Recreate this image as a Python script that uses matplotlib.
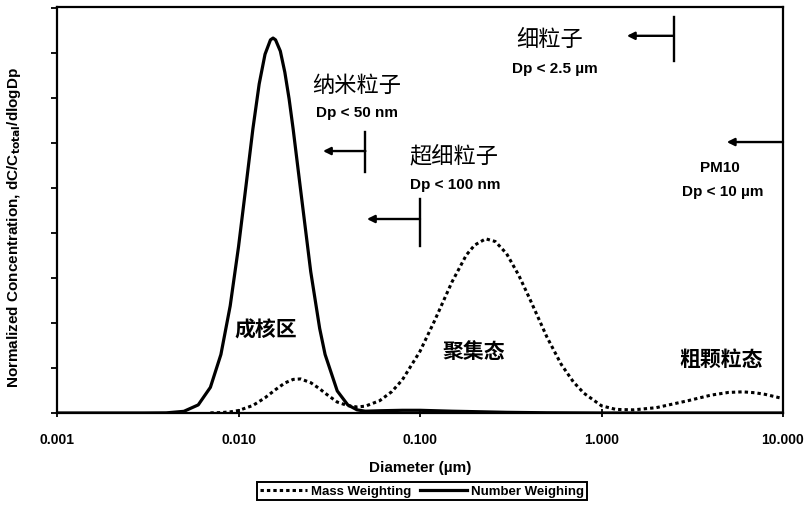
import matplotlib
matplotlib.use('Agg')
import matplotlib.pyplot as plt

plt.rcParams['font.family'] = ['Liberation Sans', 'Noto Sans CJK SC', 'DejaVu Sans']
cjk = ['Noto Sans CJK SC', 'DejaVu Sans']

# number weighting (solid)
num_d = [0.001, 0.003, 0.004, 0.005, 0.006, 0.007, 0.008, 0.009, 0.010, 0.011, 0.012,
         0.013, 0.014, 0.015, 0.0155, 0.016, 0.017, 0.018, 0.019, 0.020, 0.022, 0.025, 0.028,
         0.030, 0.035, 0.040, 0.045, 0.050, 0.060, 0.080, 0.100, 0.150, 0.200, 0.300,
         0.500, 1.0, 10.0]
num_v = [0.0, 0.0, 0.003, 0.037, 0.18, 0.57, 1.30, 2.38, 3.69, 5.05, 6.31,
         7.31, 7.97, 8.29, 8.33, 8.29, 8.04, 7.57, 6.98, 6.31, 4.95, 3.14, 1.88,
         1.30, 0.49, 0.18, 0.07, 0.04, 0.05, 0.06, 0.06, 0.04, 0.03, 0.015,
         0.005, 0.0, 0.0]

# mass weighting (dotted)
mass_d = [0.007, 0.008, 0.009, 0.010, 0.012, 0.014, 0.016, 0.018, 0.020, 0.022, 0.025,
          0.028, 0.030, 0.035, 0.040, 0.045, 0.050, 0.060, 0.070, 0.080, 0.100, 0.120,
          0.150, 0.180, 0.200, 0.230, 0.260, 0.300, 0.350, 0.400, 0.500, 0.600, 0.700,
          0.800, 1.0, 1.2, 1.5, 2.0, 3.0, 4.0, 5.0, 6.0, 7.0, 8.0, 10.0]
mass_v = [0.003, 0.009, 0.025, 0.055, 0.167, 0.338, 0.52, 0.667, 0.746, 0.757, 0.674,
          0.538, 0.44, 0.243, 0.164, 0.134, 0.152, 0.274, 0.476, 0.739, 1.37, 2.04,
          2.91, 3.51, 3.73, 3.87, 3.81, 3.54, 3.06, 2.56, 1.69, 1.08, 0.69,
          0.44, 0.16, 0.08, 0.07, 0.118, 0.274, 0.396, 0.457, 0.47, 0.45, 0.413, 0.32]

xticks = [0.001, 0.01, 0.1, 1, 10]
xticklabels = ['0.001', '0.010', '0.100', '1.000', '10.000']

# size cut-offs: (bar diameter, arrow tip diameter, arrow height, bar bottom, bar top)
cut_d = [0.05, 0.1, 2.5, 10.0]
tip_d = [0.0292, 0.051, 1.38, 4.9]
arrow_v = [5.82, 4.31, 8.38, 6.02]
bar_lo = [5.36, 3.71, 7.82, None]
bar_hi = [6.24, 4.76, 8.80, None]

fig = plt.figure(figsize=(8.1, 5.06), dpi=100)
ax = fig.add_axes([57/810, 92/506, 726/810, 406/506])

ax.plot(mass_d, mass_v, color='black', lw=2.2, ls=(0, (1.1, 1.0)), label='Mass Weighting')
ax.plot(num_d, num_v, color='black', lw=2.3, label='Number Weighing')

ax.set_xscale('log')
ax.set_xlim(0.001, 10)
ax.set_ylim(0, 9.02)
ax.set_xticks(xticks)
ax.set_xticklabels(xticklabels, fontsize=10, fontweight='bold')
ax.minorticks_off()
ax.set_yticks(range(10))
ax.set_yticklabels([])
ax.tick_params(axis='x', direction='inout', length=6, width=1.3, pad=11)
ax.tick_params(axis='y', direction='out', length=4, width=1.3)
for s in ax.spines.values():
    s.set_linewidth(1.6)

ax.set_xlabel('Diameter (µm)', fontsize=11, fontweight='bold', labelpad=10)
ax.set_ylabel('Normalized Concentration, dC/C$_{\\mathbf{total}}$/dlogDp', fontsize=11,
              fontweight='bold')
ax.yaxis.set_label_coords(-34/726, 0.46)

for i in range(len(cut_d)):
    ax.annotate('', xy=(tip_d[i], arrow_v[i]), xytext=(cut_d[i], arrow_v[i]),
                arrowprops=dict(arrowstyle='-|>', color='black', lw=1.7, mutation_scale=11,
                                shrinkA=0, shrinkB=0))
    if bar_lo[i] is not None:
        ax.plot([cut_d[i], cut_d[i]], [bar_lo[i], bar_hi[i]], color='black', lw=1.7)

ax.text(0.045, 7.29, '纳米粒子', family=cjk, fontsize=16, ha='center', va='center')
ax.text(0.0452, 6.69, 'Dp < 50 nm', fontsize=11, fontweight='bold', ha='center', va='center')
ax.text(0.154, 5.73, '超细粒子', family=cjk, fontsize=16, ha='center', va='center')
ax.text(0.156, 5.09, 'Dp < 100 nm', fontsize=11, fontweight='bold', ha='center', va='center')
ax.text(0.52, 8.33, '细粒子', family=cjk, fontsize=16, ha='center', va='center')
ax.text(0.555, 7.67, 'Dp < 2.5 µm', fontsize=11, fontweight='bold', ha='center', va='center')
ax.text(4.5, 5.47, 'PM10', fontsize=11, fontweight='bold', ha='center', va='center')
ax.text(4.67, 4.93, 'Dp < 10 µm', fontsize=11, fontweight='bold', ha='center', va='center')
ax.text(0.0142, 1.87, '成核区', family=cjk, fontsize=15, fontweight='heavy', ha='center', va='center')
ax.text(0.198, 1.38, '聚集态', family=cjk, fontsize=15, fontweight='heavy', ha='center', va='center')
ax.text(4.55, 1.22, '粗颗粒态', family=cjk, fontsize=15, fontweight='heavy', ha='center', va='center')

leg = fig.legend(loc='center', bbox_to_anchor=(422/810, 1 - 492/506), ncol=2,
                 fancybox=False, edgecolor='black', framealpha=1,
                 prop={'weight': 'bold', 'size': 9.5}, handlelength=3.6,
                 columnspacing=0.6, handletextpad=0.3, borderpad=0.25)
leg.get_frame().set_linewidth(1.4)

fig.savefig('out.png', dpi=100)
